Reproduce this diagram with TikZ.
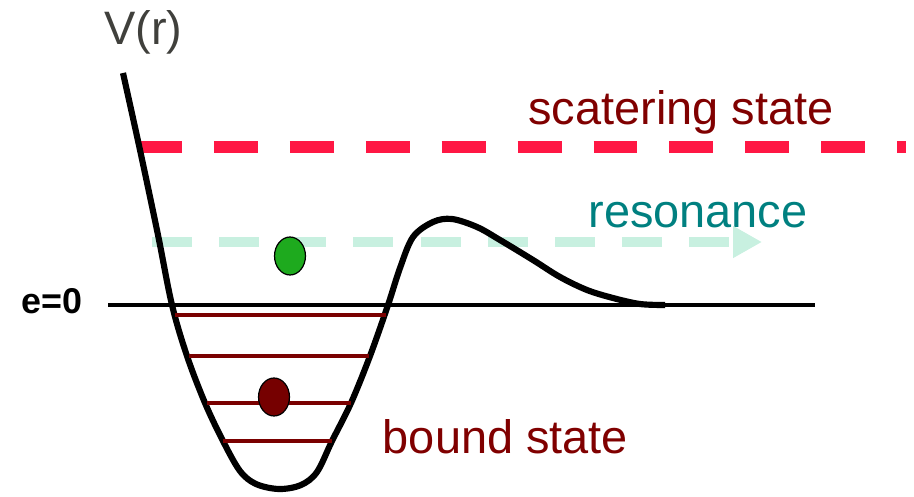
\documentclass[tikz,border=0pt]{standalone}
\usepackage{fontspec}
\setmainfont{Liberation Sans}
\usetikzlibrary{
  arrows.meta,
  shapes.geometric
}
\definecolor{axiscolor}{RGB}{64, 64, 60}
\definecolor{scattercolor}{RGB}{255, 23, 68}
\definecolor{scattertext}{RGB}{128, 0, 0}
\definecolor{resonancecolor}{RGB}{200, 240, 224}
\definecolor{resonancetext}{RGB}{0, 128, 128}
\definecolor{boundcolor}{RGB}{122, 0, 0}
\definecolor{freedot}{RGB}{30, 170, 30}
\definecolor{bounddot}{RGB}{118, 0, 0}
\tikzset{
statelabel/.style={
  font=\fontsize{26.7}{30}\selectfont,
  anchor=base,
  inner sep=0pt
},
zerolabel/.style={
  font=\fontsize{20.4}{24}\selectfont\bfseries,
  anchor=base,
  inner sep=0pt
},
potential/.style={
  draw=black,
  line width=3.5pt,
  line join=round
},
zeroline/.style={
  draw=black,
  line width=2.8pt
},
scatterline/.style={
  draw=scattercolor,
  line width=6.8pt,
  dash pattern=on 25pt off 18.2pt
},
resonancearrow/.style={
  draw=resonancecolor,
  line width=5.7pt,
  dash pattern=on 22.8pt off 15.4pt,
  -{Triangle[length=16.4pt,width=17pt,fill=resonancecolor]}
},
boundlevel/.style={
  draw=boundcolor,
  line width=2.5pt
},
particle/.style={
  ellipse,
  draw=black,
  line width=0.7pt,
  minimum width=17.6pt,
  minimum height=21.6pt,
  inner sep=0pt
}
}
\begin{document}
\begin{tikzpicture}[x=0.2mm,y=-0.2mm]
  \useasboundingbox (0,0) rectangle (914,496);
  \node[statelabel, text=axiscolor] (vr) at (143.5,45) {V(r)};
  \node[zerolabel] (ezero) at (52,313) {e=0};
  \node[statelabel, text=scattertext] (scatter) at (681,125) {scatering state};
  \node[statelabel, text=resonancetext] (reson) at (698,227) {resonance};
  \node[statelabel, text=scattertext] (bound) at (505.5,453) {bound state};

  \coordinate (scatterstart) at (138,147);
  \coordinate (scatterend) at (906,147);
  \coordinate (resstart) at (152,242);
  \coordinate (resend) at (762,242);
  \coordinate (zerostart) at (108,305);
  \coordinate (zeroend) at (815,305);

  \draw[scatterline] (scatterstart) -- (scatterend);
  \draw[resonancearrow] (resstart) -- (resend);

  \draw[potential] plot[smooth, tension=0.55] coordinates {
    (123,73) (140,150) (158,235) (172,305) (187,356) (205,403) (223,441)
    (240,471) (256,484) (279,489) (301,485) (317,472) (332,441)
    (351,403) (370,356) (388,305) (400,268) (413,237) (433,222) (452,219)
    (477,227) (500,240) (533,260) (560,277) (587,290) (613,298) (640,304)
    (665,305)};
  \draw[zeroline] (zerostart) -- (zeroend);

  \foreach \yy/\xa/\xb [count=\i] in {315/175/386, 356/189/369, 403/207/351, 441/223/332} {
    \coordinate (lvl\i a) at (\xa,\yy);
    \coordinate (lvl\i b) at (\xb,\yy);
    \draw[boundlevel] (lvl\i a) -- (lvl\i b);
  }

  \node[particle, fill=freedot] (free) at (290,256) {};
  \node[particle, fill=bounddot] (trapped) at (274,397) {};
\end{tikzpicture}
\end{document}
